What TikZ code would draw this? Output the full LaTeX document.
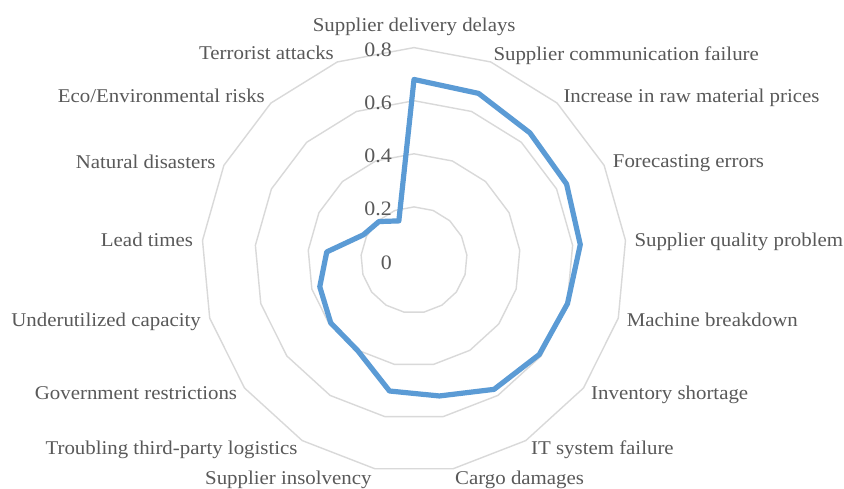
\documentclass[tikz,border=0pt]{standalone}
\usepackage{fontspec}
\setmainfont{Liberation Serif}[FakeStretch=1.07]
\usetikzlibrary{calc}
\definecolor{gridgray}{HTML}{D9D9D9}
\definecolor{txtgray}{HTML}{595959}
\definecolor{serieblue}{HTML}{5B9BD5}
\tikzset{
  gridline/.style={draw=gridgray, line width=1.4pt, line join=round},
  dataline/.style={draw=serieblue, line width=5.2pt, line join=round},
  catlabel/.style={inner sep=0pt, text=txtgray, font=\fontsize{19.5}{23}\selectfont},
  ticklabel/.style={inner sep=0pt, text=txtgray, font=\fontsize{20.5}{24}\selectfont, anchor=base east},
}
\begin{document}
\begin{tikzpicture}[x=1pt,y=1pt]
\fill[white] (0,-488) rectangle (844,0);
\useasboundingbox (0,-488) rectangle (844,0);
\begin{scope}[shift={(414,-260)}]
  \foreach \r in {53.1,106.2,159.3,212.4}
    \draw[gridline] (90:\r) \foreach \k in {1,...,16} { -- ({90-\k*360/17}:\r) } -- cycle;
  \foreach \v [count=\k from 0] in {0.680,0.673,0.648,0.642,0.629,0.601,0.591,0.573,0.521,0.502,0.402,0.393,0.369,0.330,0.213,0.196,0.158}
    \coordinate (d\k) at ({90-\k*360/17}:{\v*265.5});
  \draw[dataline] (d0) -- (d1) -- (d2) -- (d3) -- (d4) -- (d5) -- (d6) -- (d7) -- (d8) -- (d9) -- (d10) -- (d11) -- (d12) -- (d13) -- (d14) -- (d15) -- (d16) -- cycle;
\end{scope}
% tick labels
\node[ticklabel] (t0) at (392,-269) {0};
\node[ticklabel] (t1) at (392,-215.5) {0.2};
\node[ticklabel] (t2) at (392,-162) {0.4};
\node[ticklabel] (t3) at (392,-109) {0.6};
\node[ticklabel] (t4) at (392,-56.5) {0.8};
% category labels
\node[catlabel, anchor=base] (c0) at (414.2,-31.5) {Supplier delivery delays};
\node[catlabel, anchor=base west] (c1) at (493.3,-60) {Supplier communication failure};
\node[catlabel, anchor=base west] (c2) at (563.3,-102.7) {Increase in raw material prices};
\node[catlabel, anchor=base west] (c3) at (612.7,-167.3) {Forecasting errors};
\node[catlabel, anchor=base west] (c4) at (634.3,-246) {Supplier quality problem};
\node[catlabel, anchor=base west] (c5) at (626.7,-326.7) {Machine breakdown};
\node[catlabel, anchor=base west] (c6) at (591,-399) {Inventory shortage};
\node[catlabel, anchor=base west] (c7) at (531,-454) {IT system failure};
\node[catlabel, anchor=base west] (c8) at (455,-484) {Cargo damages};
\node[catlabel, anchor=base east] (c9) at (371.7,-484) {Supplier insolvency};
\node[catlabel, anchor=base east] (c10) at (297.7,-454) {Troubling third-party logistics};
\node[catlabel, anchor=base east] (c11) at (237.3,-399) {Government restrictions};
\node[catlabel, anchor=base east] (c12) at (201,-326.7) {Underutilized capacity};
\node[catlabel, anchor=base east] (c13) at (193.3,-246) {Lead times};
\node[catlabel, anchor=base east] (c14) at (215.7,-168.3) {Natural disasters};
\node[catlabel, anchor=base east] (c15) at (265,-102.7) {Eco/Environmental risks};
\node[catlabel, anchor=base east] (c16) at (334,-59.3) {Terrorist attacks};
\end{tikzpicture}
\end{document}
